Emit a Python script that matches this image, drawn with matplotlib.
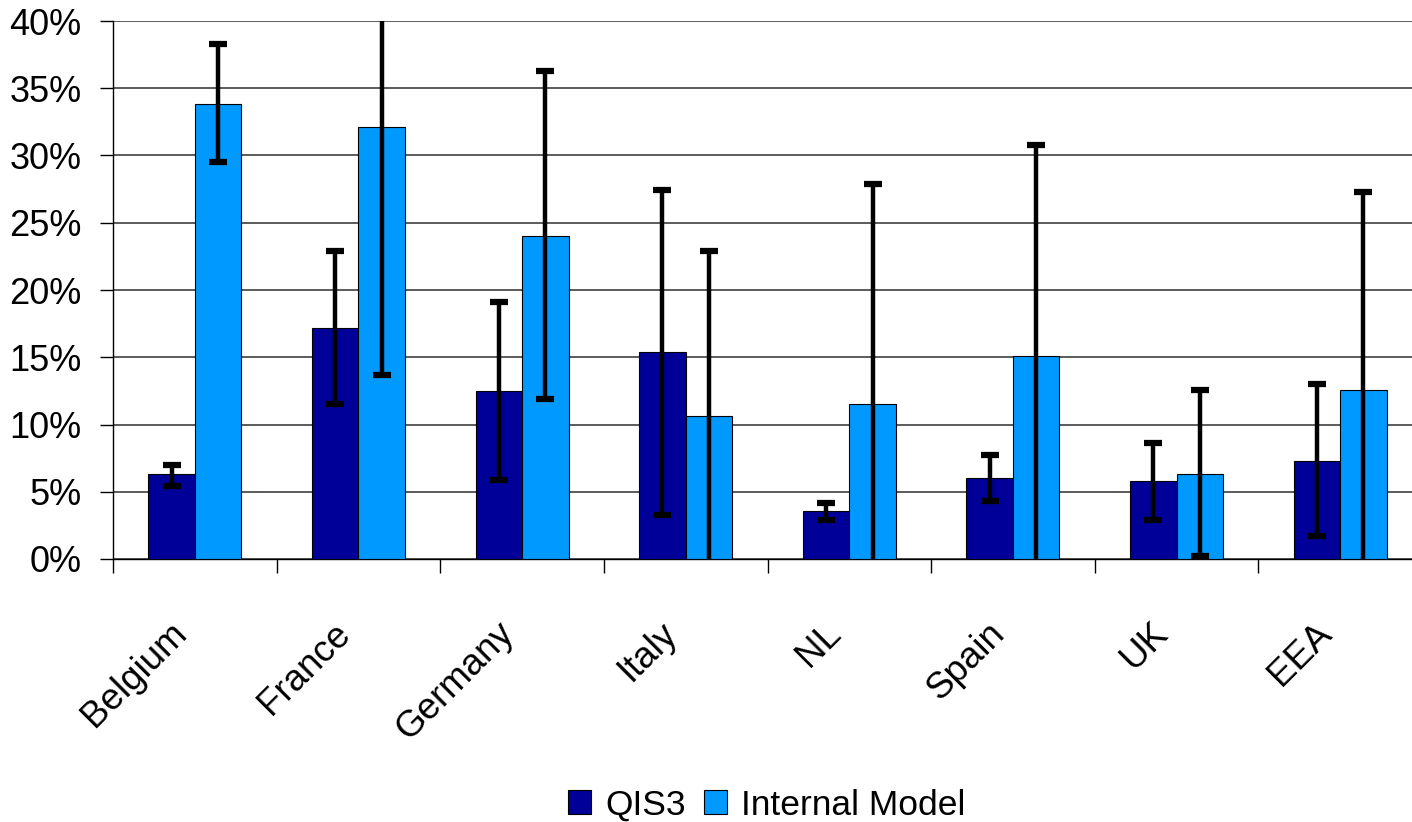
import matplotlib
matplotlib.use("Agg")
import matplotlib.pyplot as plt
import matplotlib.transforms as mtransforms
from matplotlib.ticker import PercentFormatter, FixedLocator
from matplotlib.patches import Patch
import numpy as np

plt.rcParams['font.family'] = ['Liberation Sans', 'DejaVu Sans']

categories = ['Belgium', 'France', 'Germany', 'Italy', 'NL', 'Spain', 'UK', 'EEA']

# QIS3 capital ratio with its range (low / high)
qis3 = [6.3, 17.2, 12.5, 15.4, 3.6, 6.0, 5.8, 7.3]
qis3_low = [5.4, 11.5, 5.9, 3.3, 2.9, 4.3, 2.9, 1.7]
qis3_high = [7.0, 22.9, 19.1, 27.4, 4.2, 7.7, 8.6, 13.0]

# Internal model results with their range (low / high)
internal = [33.8, 32.1, 24.0, 10.6, 11.5, 15.1, 6.3, 12.6]
internal_low = [29.5, 13.7, 11.9, -1.7, -4.9, -0.6, 0.2, -2.1]
internal_high = [38.3, 50.5, 36.3, 22.9, 27.9, 30.8, 12.6, 27.3]

W, H = 1412, 822
fig = plt.figure(figsize=(W / 100, H / 100), dpi=100)
left_px, right_px, top_px, bottom_px = 113, 1422, 21, 559
ax = fig.add_axes([left_px / W, 1 - bottom_px / H,
                   (right_px - left_px) / W, (bottom_px - top_px) / H])

x = np.arange(len(categories))
w = 0.284
c_qis = '#000099'
c_int = '#0099FF'

ax.bar(x - w / 2, qis3, w, color=c_qis, edgecolor='black', linewidth=0.8, zorder=3)
ax.bar(x + w / 2, internal, w, color=c_int, edgecolor='black', linewidth=0.8, zorder=3)

def draw_err(xs, vals, lo, hi):
    vals = np.array(vals)
    yerr = np.vstack([vals - np.array(lo), np.array(hi) - vals])
    eb = ax.errorbar(xs, vals, yerr=yerr, fmt='none', ecolor='black',
                     elinewidth=3.2, capsize=6.5, capthick=4.5, zorder=4)
    for cap in eb[1]:
        cap.set_solid_capstyle('round')
    for coll in eb[2]:
        coll.set_capstyle('round')

draw_err(x - w / 2, qis3, qis3_low, qis3_high)
draw_err(x + w / 2, internal, internal_low, internal_high)

ax.set_xlim(-0.5, len(categories) - 0.5)
ax.set_ylim(0, 40)
ax.set_yticks(np.arange(0, 41, 5))
ax.yaxis.set_major_formatter(PercentFormatter(decimals=0))
ax.yaxis.grid(True, color='#404040', linewidth=1.2, zorder=0)
ax.set_axisbelow(True)

for s in ['top', 'right']:
    ax.spines[s].set_visible(False)
ax.spines['left'].set_linewidth(1.0)
ax.spines['bottom'].set_linewidth(1.0)

ax.tick_params(axis='y', direction='out', length=9.5, width=1.0, pad=13, labelsize=26)

# category boundaries carry the tick marks, labels sit at the centres
ax.xaxis.set_major_locator(FixedLocator(x))
ax.xaxis.set_minor_locator(FixedLocator(np.arange(len(categories) + 1) - 0.5))
ax.tick_params(axis='x', which='major', length=0, pad=41, labelsize=26.5)
ax.tick_params(axis='x', which='minor', direction='out', length=10, width=1.0)
ax.set_xticklabels(categories, rotation=45, ha='right', va='top',
                   rotation_mode='anchor')
offset = mtransforms.ScaledTranslation(-26 / 100, 0, fig.dpi_scale_trans)
for lbl in ax.get_xticklabels():
    lbl.set_transform(lbl.get_transform() + offset)

handles = [Patch(facecolor=c_qis, edgecolor='black', linewidth=0.8, label='QIS3'),
           Patch(facecolor=c_int, edgecolor='black', linewidth=0.8, label='Internal Model')]
fig.legend(handles=handles, loc='center', bbox_to_anchor=(767 / W, 1 - 805 / H),
           ncol=2, frameon=False, fontsize=25.5, handlelength=0.65, handleheight=0.65,
           handletextpad=0.4, columnspacing=0.5, borderpad=0)

fig.savefig('out.png', dpi=100)
